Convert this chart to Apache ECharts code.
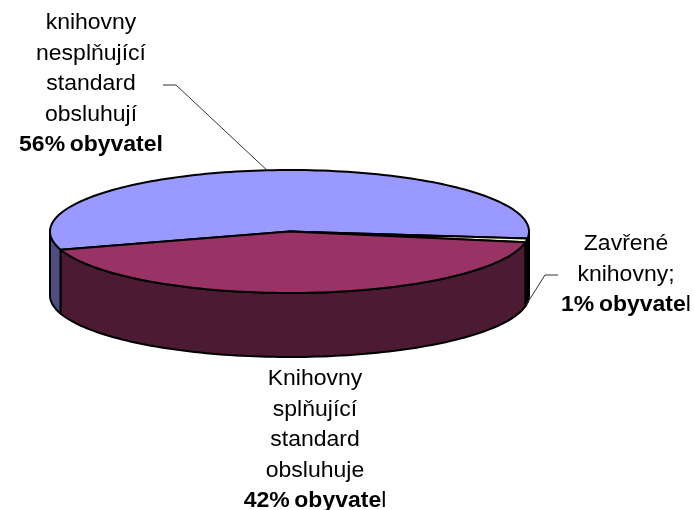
<!DOCTYPE html>
<html><head><meta charset="utf-8">
<style>html,body{margin:0;padding:0;background:#fff}#c{width:694px;height:510px}</style>
<script src="https://cdn.jsdelivr.net/npm/echarts@6/dist/echarts.min.js"></script>
</head><body><div id="c"></div>
<script>
// Data
var names = ['knihovny nesplňující standard', 'Zavřené knihovny', 'Knihovny splňující standard'];
var values = [56, 1, 42];
var topColors = ['#9999ff', '#ffffcc', '#993366'];
var wallColors = ['#4d4d80', '#000000', '#4c1a33'];
var labelLines = [
  ['knihovny', 'nesplňující', 'standard', 'obsluhují', '{b|56%\u2009obyvatel}'],
  ['Zavřené', 'knihovny;', '{b|1%\u2009obyvate}l'],
  ['Knihovny', 'splňující', 'standard', 'obsluhuje', '{b|42%\u2009obyvate}l']
];
// Layout
var CX = 289.5, CY = 231.5, RX = 239.5, RY = 61.5, DEPTH = 64, START = 162.8;
var labelPos = [[91, 23], [626, 244], [315, 379]];
var LINE_H = 30.5, FONT = 22, STRETCH = 1.045;
var total = values.reduce(function (a, b) { return a + b; }, 0);
var rad = Math.PI / 180;
var sweeps = [], acc = START;
values.forEach(function (v) { var s = v / total * 360; sweeps.push([acc, acc + s]); acc += s; });
function pt(a, dz) { return [CX + RX * Math.cos(a * rad), CY + RY * Math.sin(a * rad) + (dz || 0)]; }
function arc(a0, a1, dz) {
  var out = [], n = Math.max(2, Math.ceil(Math.abs(a1 - a0) / 1.5));
  for (var i = 0; i <= n; i++) out.push(pt(a0 + (a1 - a0) * i / n, dz));
  return out;
}
function wallRanges(a0, a1) {
  var out = [];
  [[0, 180], [360, 540]].forEach(function (w) {
    var l = Math.max(a0, w[0]), h = Math.min(a1, w[1]);
    if (h > l) out.push([l, h]);
  });
  return out;
}
var ids = values.map(function (v, i) { return [v, i]; });

function renderWall(params, api) {
  var i = params.dataIndex, kids = [];
  wallRanges(sweeps[i][0], sweeps[i][1]).forEach(function (r) {
    var pts = arc(r[0], r[1], 0).concat(arc(r[1], r[0], DEPTH));
    kids.push({ type: 'polygon', shape: { points: pts },
      style: { fill: wallColors[i], stroke: '#000', lineWidth: 2, lineJoin: 'round' } });
  });
  return { type: 'group', children: kids };
}
function renderTop(params, api) {
  var i = params.dataIndex;
  var pts = [[CX, CY]].concat(arc(sweeps[i][0], sweeps[i][1], 0));
  return { type: 'polygon', shape: { points: pts },
    style: { fill: topColors[i], stroke: '#000', lineWidth: 2, lineJoin: 'round' } };
}
function renderLabel(params, api) {
  var i = params.dataIndex, kids = [];
  labelLines[i].forEach(function (line, k) {
    kids.push({ type: 'text', x: labelPos[i][0], y: labelPos[i][1] + k * LINE_H, scaleX: STRETCH,
      style: { text: line, fill: '#000', align: 'center', verticalAlign: 'middle',
        font: FONT + 'px "Liberation Sans", Arial, sans-serif',
        rich: { b: { fontWeight: 'bold', fontSize: FONT, fontFamily: '"Liberation Sans", Arial, sans-serif', fill: '#000' } } } });
  });
  var mid = (sweeps[i][0] + sweeps[i][1]) / 2;
  if (i === 0) {
    var e = pt(mid, 0);
    kids.push({ type: 'polyline', shape: { points: [[163, 85], [176, 85], e] }, style: { fill: null, stroke: '#333', lineWidth: 1 } });
  } else if (i === 1) {
    var f = pt(mid, DEPTH);
    kids.push({ type: 'polyline', shape: { points: [[558, 275], [545, 275], f] }, style: { fill: null, stroke: '#333', lineWidth: 1 } });
  }
  return { type: 'group', children: kids };
}
var chart = echarts.init(document.getElementById('c'), null, { renderer: 'canvas' });
chart.setOption({
  animation: false,
  backgroundColor: '#fff',
  series: [
    { type: 'custom', coordinateSystem: 'none', name: 'walls', data: ids, renderItem: renderWall, silent: true, z: 1 },
    { type: 'custom', coordinateSystem: 'none', name: 'tops', data: ids, renderItem: renderTop, silent: true, z: 2 },
    { type: 'custom', coordinateSystem: 'none', name: 'labels', data: ids, renderItem: renderLabel, silent: true, z: 3 }
  ]
});
</script></body></html>
